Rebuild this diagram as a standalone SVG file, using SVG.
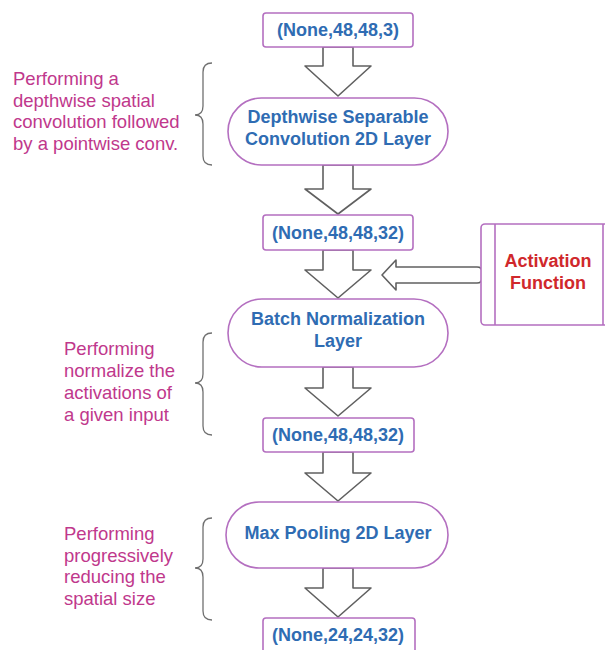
<svg xmlns="http://www.w3.org/2000/svg" width="605" height="650" viewBox="0 0 605 650">
<style>
.box{fill:#fff;stroke:#b46fc0;stroke-width:1.6}
.arr{fill:#fff;stroke:#606060;stroke-width:1.6;stroke-linejoin:round}
.brace{fill:none;stroke:#707070;stroke-width:1.3}
.blue{font-family:"Liberation Sans",Arial,sans-serif;font-size:18px;font-weight:bold;fill:#2f6cb3;text-anchor:middle}
.red{font-family:"Liberation Sans",Arial,sans-serif;font-size:18px;font-weight:bold;fill:#d0282c;text-anchor:middle}
.note{font-family:"Liberation Sans",Arial,sans-serif;font-size:18.5px;fill:#c0388c}
</style>
<rect width="605" height="650" fill="#fff"/>
<g id="connectors">
<path class="arr" d="M323,47 L353,47 L353,66 L371,66 L338,96 L305,66 L323,66 Z"/>
<path class="arr" d="M323,165 L353,165 L353,189 L371,189 L338,214 L305,189 L323,189 Z"/>
<path class="arr" d="M323,250 L353,250 L353,270 L371,270 L338,298 L305,270 L323,270 Z"/>
<path class="arr" d="M323,367 L353,367 L353,388 L371,388 L338,416 L305,388 L323,388 Z"/>
<path class="arr" d="M323,452 L353,452 L353,473 L371,473 L338,501 L305,473 L323,473 Z"/>
<path class="arr" d="M323,568 L353,568 L353,588 L371,588 L338,617 L305,588 L323,588 Z"/>
<path class="arr" d="M382,275 L396,260 L396,267 L477,267 Q482,267 482,272 L482,278 Q482,283 477,283 L396,283 L396,290 Z"/>
</g>
<g id="n_input">
<rect class="box" x="263" y="13" width="150" height="34" rx="3"/>
<text class="blue" x="338" y="36">(None,48,48,3)</text>
</g>
<g id="n_sepconv">
<rect class="box" x="228" y="98" width="220" height="67" rx="33.5"/>
<text class="blue" x="338" y="123">Depthwise Separable</text>
<text class="blue" x="338" y="145">Convolution 2D Layer</text>
</g>
<g id="n_out1">
<rect class="box" x="263" y="215" width="150" height="35" rx="3"/>
<text class="blue" x="338" y="239">(None,48,48,32)</text>
</g>
<g id="n_activation">
<rect class="box" x="481" y="224" width="140" height="101" rx="4"/>
<line class="box" x1="495" y1="224" x2="495" y2="325"/>
<line class="box" x1="603" y1="224" x2="603" y2="325"/>
<text class="red" x="548" y="267">Activation</text>
<text class="red" x="548" y="289">Function</text>
</g>
<g id="n_batchnorm">
<rect class="box" x="228" y="299" width="220" height="68" rx="34"/>
<text class="blue" x="338" y="325">Batch Normalization</text>
<text class="blue" x="338" y="347">Layer</text>
</g>
<g id="n_out2">
<rect class="box" x="263" y="418" width="151" height="34" rx="3"/>
<text class="blue" x="338" y="441">(None,48,48,32)</text>
</g>
<g id="n_maxpool">
<rect class="box" x="226" y="502" width="222" height="66" rx="33"/>
<text class="blue" x="338" y="539">Max Pooling 2D Layer</text>
</g>
<g id="n_out3">
<rect class="box" x="263" y="618" width="152" height="42" rx="3"/>
<text class="blue" x="338" y="641">(None,24,24,32)</text>
</g>
<g id="note1">
<path class="brace" d="M212,63 Q203,63 203,72 L203,106 Q203,115 195,115 Q203,115 203,124 L203,156 Q203,165 212,165"/>
<text class="note" x="13" y="85">Performing a</text>
<text class="note" x="13" y="107">depthwise spatial</text>
<text class="note" x="13" y="128">convolution followed</text>
<text class="note" x="13" y="150">by a pointwise conv.</text>
</g>
<g id="note2">
<path class="brace" d="M212,333 Q203,333 203,342 L203,374 Q203,383 195,383 Q203,383 203,392 L203,426 Q203,435 212,435"/>
<text class="note" x="64" y="355">Performing</text>
<text class="note" x="64" y="377">normalize the</text>
<text class="note" x="64" y="399">activations of</text>
<text class="note" x="64" y="421">a given input</text>
</g>
<g id="note3">
<path class="brace" d="M212,518 Q203,518 203,527 L203,559 Q203,568 195,568 Q203,568 203,577 L203,611 Q203,620 212,620"/>
<text class="note" x="64" y="540">Performing</text>
<text class="note" x="64" y="562">progressively</text>
<text class="note" x="64" y="583">reducing the</text>
<text class="note" x="64" y="605">spatial size</text>
</g>
</svg>
